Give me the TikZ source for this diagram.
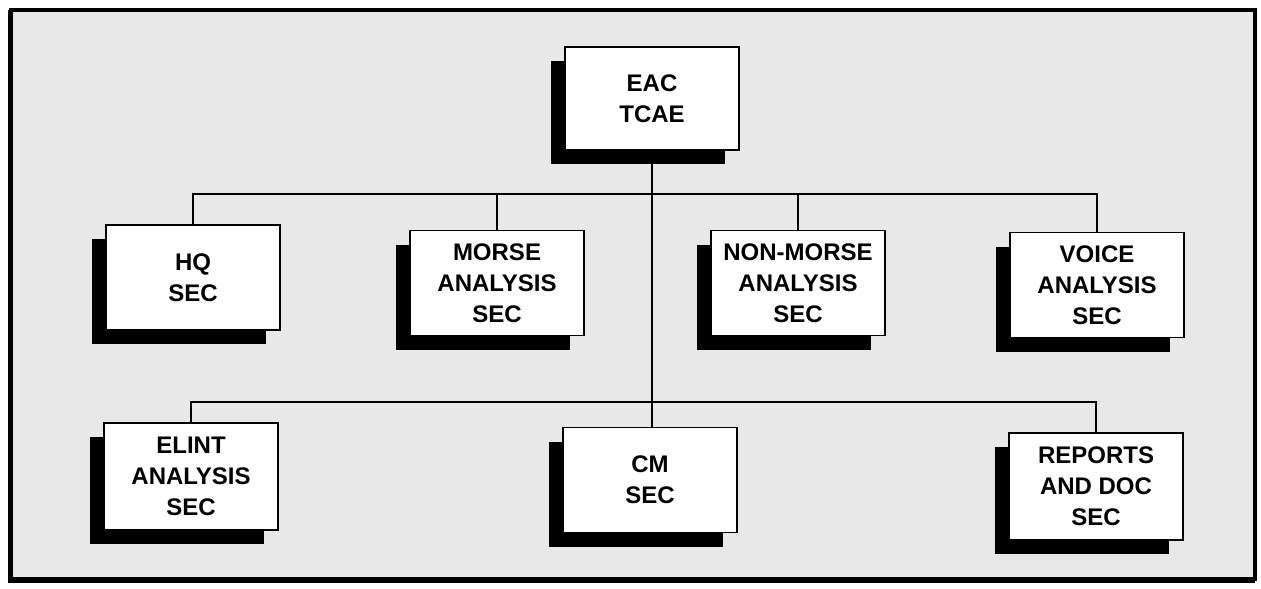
\documentclass[tikz,border=0pt]{standalone}
\usepackage{fontspec}
\setmainfont{Liberation Sans}
\usetikzlibrary{shadows}
\begin{document}
\begin{tikzpicture}[x=1pt,y=-1pt,
  orgbox/.style={draw=black, line width=1.6pt, fill=white,
    minimum width=174pt, minimum height=105pt, inner sep=0pt,
    align=center, font=\bfseries\fontsize{24}{31}\selectfont,
    drop shadow={opacity=1, fill=black, shadow xshift=-14pt, shadow yshift=-14pt}},
  link/.style={draw=black, line width=1.5pt}]
\useasboundingbox (0,0) rectangle (1261,589);
\fill[black!9] (11,10) rectangle (1255,579);
\draw[line width=4pt] (11,10) rectangle (1255,579);
\draw[line width=3pt] (9,10) -- (9,581) -- (1255,581);
% nodes
\node[orgbox, minimum height=103pt] (eac) at (652,98.5) {EAC\\TCAE};
\node[orgbox] (hq) at (193,277.5) {HQ\\SEC};
\node[orgbox] (morse) at (497,283) {MORSE\\ANALYSIS\\SEC};
\node[orgbox] (nonmorse) at (798,283) {NON-MORSE\\ANALYSIS\\SEC};
\node[orgbox] (voice) at (1097,285) {VOICE\\ANALYSIS\\SEC};
\node[orgbox, minimum height=107pt] (elint) at (191,476.5) {ELINT\\ANALYSIS\\SEC};
\node[orgbox] (cm) at (650,480) {CM\\SEC};
\node[orgbox, minimum height=107pt] (reports) at (1096,486.5) {REPORTS\\AND DOC\\SEC};
% bus coordinates
\coordinate (bus1) at (652,194);
\coordinate (bus2) at (652,402);
% connectors
\draw[link] (eac.south) -- (eac.south |- cm.north);
\draw[link] (hq.north) -- (hq.north |- bus1) -- (voice.north |- bus1) -- (voice.north);
\draw[link] (morse.north) -- (morse.north |- bus1);
\draw[link] (nonmorse.north) -- (nonmorse.north |- bus1);
\draw[link] (elint.north) -- (elint.north |- bus2) -- (reports.north |- bus2) -- (reports.north);
\end{tikzpicture}
\end{document}
